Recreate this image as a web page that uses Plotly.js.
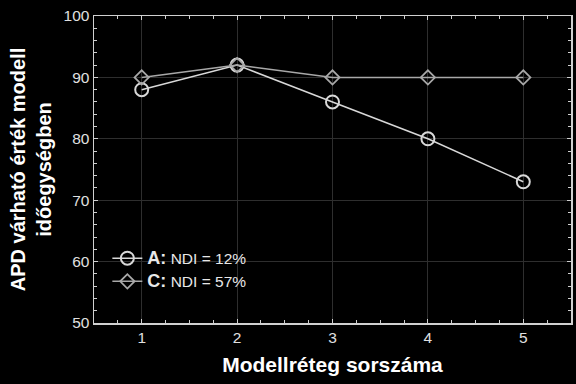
<!DOCTYPE html>
<html>
<head>
<meta charset="utf-8">
<script src="https://cdn.plot.ly/plotly-3.0.1.min.js"></script>
<style>html,body{margin:0;padding:0;background:#000;}#chart{width:576px;height:384px;}</style>
</head>
<body>
<div id="chart"></div>
<script>
const layers = [1, 2, 3, 4, 5];
const seriesA = [88, 92, 86, 80, 73];
const seriesC = [90, 92, 90, 90, 90];
const nameA = '<span style="font-weight:bold;font-size:18px">A:</span> NDI = 12%';
const nameC = '<span style="font-weight:bold;font-size:18px">C:</span> NDI = 57%';
const xTitle = 'Modellréteg sorszáma';
const yTitle = 'APD várható érték modell<br>időegységben';

const FONT = 'Liberation Sans, Arial, sans-serif';

const traces = [
  {
    x: layers, y: seriesA, name: nameA, type: 'scatter', mode: 'lines+markers',
    line: {color: '#d8d8d8', width: 1.5},
    marker: {symbol: 'circle-open', size: 13, color: '#d8d8d8', line: {width: 2, color: '#d8d8d8'}}
  },
  {
    x: layers, y: seriesC, name: nameC, type: 'scatter', mode: 'lines+markers',
    line: {color: '#a8a8a8', width: 1.5},
    marker: {symbol: 'diamond-open', size: 11, color: '#a8a8a8', line: {width: 1.8, color: '#a8a8a8'}}
  }
];

const axisCommon = {
  showline: true, linecolor: '#d0d0d0', linewidth: 1.5, mirror: 'allticks',
  ticks: 'inside', ticklen: 4, tickcolor: '#d0d0d0', tickwidth: 1,
  showgrid: true, gridcolor: '#2e2e2e', gridwidth: 1,
  zeroline: false,
  tickfont: {family: FONT, size: 15.5, color: '#e0e0e0'}
};

const layout = {
  width: 576, height: 384,
  paper_bgcolor: '#000', plot_bgcolor: '#000',
  margin: {l: 94, r: 5, t: 16, b: 61},
  showlegend: true,
  legend: {
    x: 0.028, y: 0.265, xanchor: 'left', yanchor: 'top',
    bgcolor: 'rgba(0,0,0,0)', borderwidth: 0,
    font: {family: FONT, size: 15.5, color: '#e8e8e8'},
    tracegroupgap: 0
  },
  xaxis: Object.assign({}, axisCommon, {
    range: [0.5, 5.5], tickmode: 'array', tickvals: layers,
    minor: {dtick: 0.25, ticks: 'inside', ticklen: 3, tickcolor: '#d0d0d0', showgrid: false},
    title: {text: '<b>' + xTitle + '</b>', font: {family: FONT, size: 21, color: '#ffffff'}, standoff: 12},
    automargin: false
  }),
  yaxis: Object.assign({}, axisCommon, {
    range: [50, 100], tickmode: 'linear', tick0: 50, dtick: 10,
    minor: {dtick: 2, ticks: 'inside', ticklen: 3, tickcolor: '#d0d0d0', showgrid: false},
    title: {text: '<b>' + yTitle + '</b>', font: {family: FONT, size: 20, color: '#ffffff'}, standoff: 6},
    automargin: false
  })
};

Plotly.newPlot('chart', traces, layout, {displayModeBar: false, staticPlot: true});
</script>
</body>
</html>
